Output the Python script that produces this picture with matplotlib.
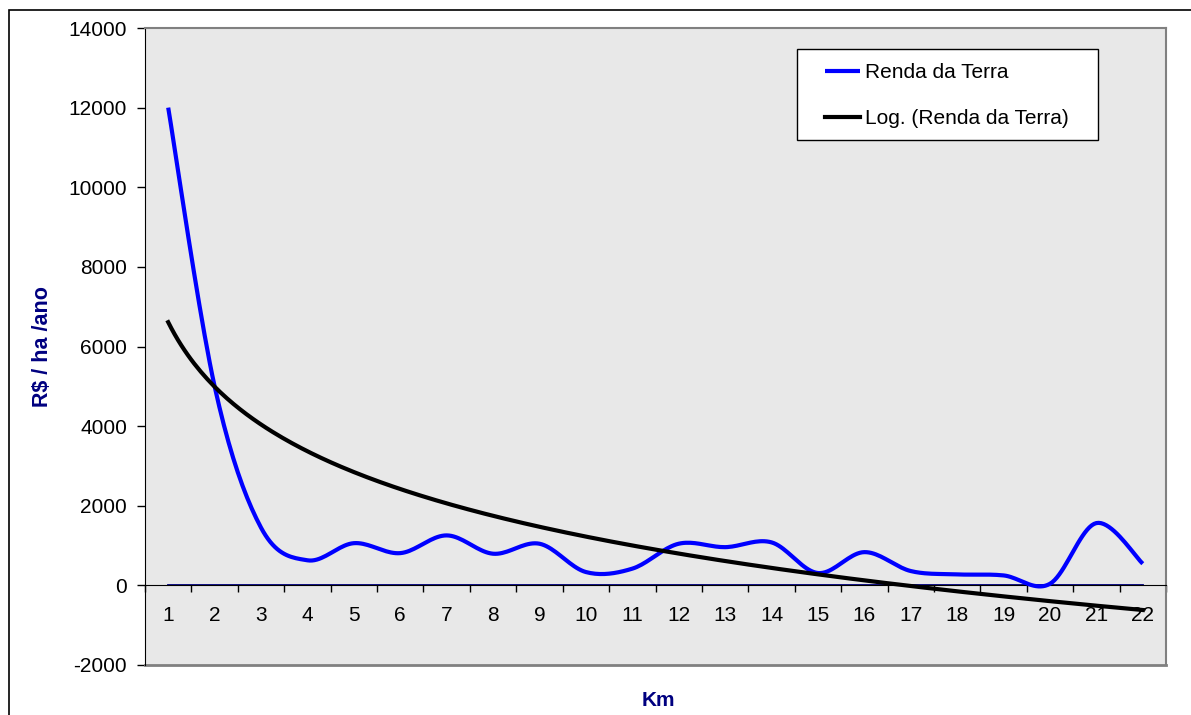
import matplotlib
matplotlib.use('Agg')
import matplotlib.pyplot as plt
from matplotlib.patches import Rectangle
import numpy as np

plt.rcParams['font.family'] = ['Liberation Sans', 'DejaVu Sans']
plt.rcParams['axes.unicode_minus'] = False

# data
km = list(range(1, 23))
renda = [12000, 5000, 1450, 630, 1060, 810, 1255, 795, 1046, 335, 420,
         1046, 960, 1080, 310, 835, 360, 276, 250, 40, 1565, 545]
zero_line = [0] * len(km)

yticks = [-2000, 0, 2000, 4000, 6000, 8000, 10000, 12000, 14000]

W, H = 1191, 715
FS = 15


def catmull_rom(x, y, n=20):
    # smooth line through the points (like excel "smoothed line")
    px = np.r_[x[0], x, x[-1]]
    py = np.r_[y[0], y, y[-1]]
    xs, ys = [], []
    t = np.linspace(0, 1, n, endpoint=False)
    for i in range(1, len(px) - 2):
        for p, out in ((px, xs), (py, ys)):
            p0, p1, p2, p3 = p[i - 1], p[i], p[i + 1], p[i + 2]
            out.extend(0.5 * ((2 * p1) + (-p0 + p2) * t
                              + (2 * p0 - 5 * p1 + 4 * p2 - p3) * t ** 2
                              + (-p0 + 3 * p1 - 3 * p2 + p3) * t ** 3))
    xs.append(x[-1])
    ys.append(y[-1])
    return np.array(xs), np.array(ys)


fig = plt.figure(figsize=(W / 100, H / 100), dpi=100)
ax = fig.add_axes([145 / W, 1 - 665 / H, (1166 - 145) / W, (665 - 28) / H])
ax.set_facecolor('#e8e8e8')

# outer chart border
fig.patches.append(Rectangle((9 / W, -0.01), 1.02, 1 - 10 / H + 0.01, transform=fig.transFigure,
                             fill=False, edgecolor='black', linewidth=1.2))

x = np.array(km, dtype=float)
y = np.array(renda, dtype=float)

# logarithmic trend line (least squares on ln(x)), as excel does
a, b = np.polyfit(np.log(x), y, 1)
xt = np.linspace(1, 22, 300)
yt = a * np.log(xt) + b

ax.plot(x, zero_line, color='#000080', linewidth=1.3, zorder=2)
xs, ys = catmull_rom(x, y)
ax.plot(xs, ys, color='#0000ff', linewidth=3, label='Renda da Terra', zorder=3,
        solid_capstyle='butt')
ax.plot(xt, yt, color='black', linewidth=3, label='Log. (Renda da Terra)', zorder=4)

ax.set_xlim(0.5, 22.5)
ax.set_ylim(-2000, 14000)
ax.set_yticks(yticks)
ax.tick_params(axis='y', direction='out', length=6, width=1, pad=7, labelsize=FS)

# category axis crossing at zero
ax.spines['bottom'].set_position(('data', 0))
ax.spines['bottom'].set_color('black')
ax.spines['left'].set_color('black')
ax.spines['top'].set_color('#808080')
ax.spines['right'].set_color('#808080')
ax.spines['top'].set_linewidth(1.5)
ax.spines['right'].set_linewidth(1.5)
ax.plot([0, 1], [0, 0], transform=ax.transAxes, color='#808080', linewidth=2, clip_on=False)

ax.set_xticks(np.arange(0.5, 23, 1))
ax.set_xticklabels([])
ax.tick_params(axis='x', which='major', direction='out', length=5, width=1)
ax.set_xticks(km, minor=True)
ax.set_xticklabels([str(k) for k in km], minor=True)
ax.tick_params(axis='x', which='minor', length=0, pad=15, labelsize=FS)

fig.text(42 / W, 1 - 347 / H, 'R\\$ / ha /ano', rotation=90, color='#000080',
         fontsize=15.5, fontweight='bold', ha='center', va='center')
fig.text(658 / W, 1 - 700 / H, 'Km', color='#000080', fontsize=FS,
         fontweight='bold', ha='center', va='center')

# legend box drawn separately so its size matches the original
box = Rectangle((797 / W, 1 - 140 / H), (1098 - 797) / W, (140 - 49) / H,
                transform=fig.transFigure, facecolor='white', edgecolor='black',
                linewidth=1, zorder=10, clip_on=False)
ax.add_patch(box)
leg = ax.legend(loc='upper left', bbox_to_anchor=(825 / W, 1 - 63 / H),
                bbox_transform=fig.transFigure, fontsize=FS, frameon=False,
                borderaxespad=0, borderpad=0, handlelength=1.68,
                handletextpad=0.24, labelspacing=1.3)
leg.set_zorder(11)

plt.savefig('out.png', dpi=100)
plt.close()
